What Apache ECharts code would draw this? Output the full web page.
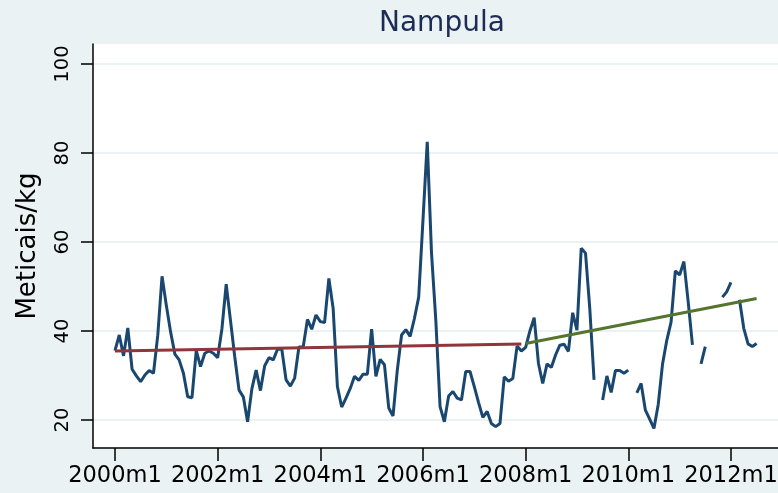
<!DOCTYPE html>
<html>
<head>
<meta charset="utf-8">
<script src="https://cdn.jsdelivr.net/npm/echarts@6/dist/echarts.min.js"></script>
<style>
  html, body { margin: 0; background: #eaf2f3; }
  #chart { width: 778px; height: 493px; }
</style>
</head>
<body>
<div id="chart"></div>
<script>
// monthly prices, index 0 = 2000m1 (null = missing month)
const prices = [
  35.6, 39.1, 34.4, 40.7, 31.4, 29.9, 28.6, 30.1, 31.1, 30.5, 39.0, 52.3,
  45.8, 39.8, 34.8, 33.5, 30.5, 25.2, 25.0, 35.6, 32.0, 35.0, 35.5, 35.0,
  34.0, 40.5, 50.5, 42.4, 34.2, 26.7, 25.2, 19.6, 27.0, 31.2, 26.6, 32.2,
  34.0, 33.5, 35.9, 35.9, 29.0, 27.6, 29.4, 36.4, 36.4, 42.6, 40.4, 43.6,
  42.1, 41.9, 51.8, 45.1, 27.5, 22.9, 24.9, 27.1, 29.8, 28.9, 30.3, 30.3,
  40.4, 29.8, 33.6, 32.4, 22.7, 20.9, 31.2, 39.1, 40.3, 38.8, 42.8, 47.6,
  64.9, 82.5, 57.5, 42.5, 23.0, 19.6, 25.4, 26.4, 24.9, 24.5, 30.9, 30.9,
  27.5, 23.9, 20.6, 21.9, 19.2, 18.5, 19.2, 29.7, 28.7, 29.3, 36.6, 35.5,
  36.3, 40.0, 43.0, 32.7, 28.2, 32.6, 31.8, 34.6, 36.8, 37.0, 35.4, 44.1,
  40.2, 58.6, 57.5, 45.0, 29.0, null, 24.5, 29.9, 26.2, 31.1, 31.1, 30.5,
  31.2, null, 26.1, 28.2, 22.2, 20.2, 18.1, 23.5, 32.5, 37.9, 42.0, 53.5,
  52.6, 55.6, 46.6, 36.9, null, 32.6, 36.5, null, null, null, 47.6, 48.8,
  50.9, null, 47.0, 40.6, 37.1, 36.5, 37.2
];

const xTickMonths = [0, 24, 48, 72, 96, 120, 144];
const xTickLabels = ['2000m1', '2002m1', '2004m1', '2006m1', '2008m1', '2010m1', '2012m1'];
const yTicks = [20, 40, 60, 80, 100];

// linear trends before / after 2008
const trendPreMonths = [0, 95];
const trendPreValues = [35.5, 37.1];
const trendPostMonths = [96, 150];
const trendPostValues = [37.2, 47.3];

const font = 'DejaVu Sans';
const chart = echarts.init(document.getElementById('chart'));

chart.setOption({
  animation: false,
  backgroundColor: '#eaf2f3',
  title: {
    text: 'Nampula',
    left: 374,
    top: 5,
    textStyle: {fontFamily: font, fontSize: 28, fontWeight: 'normal', color: '#1c2c55'}
  },
  grid: {
    left: 93, right: 0, top: 44, bottom: 45,
    outerBoundsMode: 'none',
    containLabel: false,
    show: true, backgroundColor: '#ffffff', borderWidth: 0
  },
  xAxis: {
    type: 'value',
    min: -5.14,
    max: 155,
    axisLine: {onZero: false, lineStyle: {color: '#000', width: 1.5}},
    axisTick: {
      customValues: xTickMonths,
      length: 13,
      lineStyle: {color: '#000', width: 1.5}
    },
    axisLabel: {
      customValues: xTickMonths,
      margin: 17,
      fontFamily: font,
      fontSize: 22.5,
      color: '#000',
      hideOverlap: false,
      formatter: (v) => xTickLabels[xTickMonths.indexOf(v)]
    },
    splitLine: {show: false}
  },
  yAxis: {
    type: 'value',
    min: 13.7,
    max: 104.5,
    name: 'Meticais/kg',
    nameLocation: 'middle',
    nameRotate: 90,
    nameGap: 52,
    nameTextStyle: {fontFamily: font, fontSize: 26, color: '#000'},
    axisLine: {show: true, onZero: false, lineStyle: {color: '#000', width: 1.5}},
    axisTick: {
      customValues: yTicks,
      length: 12,
      lineStyle: {color: '#000', width: 1.5}
    },
    axisLabel: {
      customValues: yTicks,
      rotate: 90,
      margin: 20,
      fontFamily: font,
      fontSize: 19.5,
      color: '#000'
    },
    splitLine: {show: true, lineStyle: {color: '#eaf2f3', width: 2}}
  },
  series: [{
    name: 'price',
    type: 'line',
    data: prices.map((v, i) => [i, v == null ? '-' : v]),
    connectNulls: false,
    showSymbol: false,
    lineStyle: {color: '#1a476f', width: 3},
    itemStyle: {color: '#1a476f'}
  }, {
    name: 'trend pre',
    type: 'line',
    data: trendPreMonths.map((m, i) => [m, trendPreValues[i]]),
    showSymbol: false,
    lineStyle: {color: '#90353b', width: 3}
  }, {
    name: 'trend post',
    type: 'line',
    data: trendPostMonths.map((m, i) => [m, trendPostValues[i]]),
    showSymbol: false,
    lineStyle: {color: '#55752f', width: 3}
  }]
});
</script>
</body>
</html>
